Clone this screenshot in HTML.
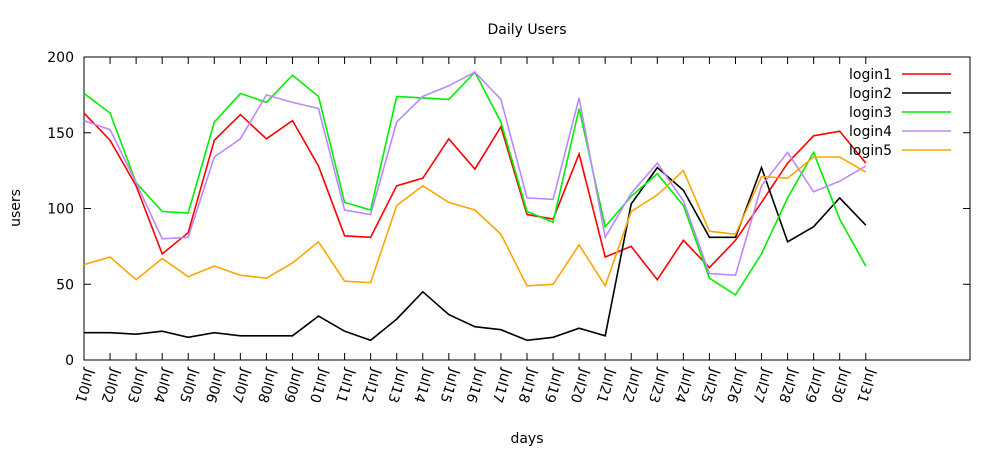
<!DOCTYPE html>
<html><head><meta charset="utf-8"><style>
html,body{margin:0;padding:0;background:#fff;}
svg text{font-family:"DejaVu Sans","Liberation Sans",sans-serif;font-size:14px;fill:#000;}
</style></head><body>
<svg id="chart" width="1000" height="450" xmlns="http://www.w3.org/2000/svg">
<text x="527" y="34" text-anchor="middle">Daily Users</text>
<text x="527" y="443" text-anchor="middle">days</text>
<text transform="translate(20,208) rotate(-90)" text-anchor="middle">users</text>
<rect x="84" y="57" width="886" height="303" fill="none" stroke="#000" stroke-width="1"/>
<g id="axes"></g>
<g id="series"></g>
<g id="legend"></g>
</svg>
<script>
const days = ["Jul01","Jul02","Jul03","Jul04","Jul05","Jul06","Jul07","Jul08","Jul09","Jul10","Jul11","Jul12","Jul13","Jul14","Jul15","Jul16","Jul17","Jul18","Jul19","Jul20","Jul21","Jul22","Jul23","Jul24","Jul25","Jul26","Jul27","Jul28","Jul29","Jul30","Jul31"];
const yTicks = [0,50,100,150,200];
const login1 = [163,145,115,70,84,145,162,146,158,128,82,81,115,120,146,126,154,96,93,136,68,75,53,79,61,79,104,130,148,151,130];
const login2 = [18,18,17,19,15,18,16,16,16,29,19,13,27,45,30,22,20,13,15,21,16,103,127,112,81,81,127,78,88,107,89];
const login3 = [176,163,117,98,97,157,176,170,188,174,104,99,174,173,172,190,157,98,91,166,88,108,123,102,54,43,70,107,137,93,62];
const login4 = [158,152,117,80,81,134,146,175,170,166,99,96,157,174,181,190,172,107,106,173,81,110,130,105,57,56,115,137,111,118,128];
const login5 = [63,68,53,67,55,62,56,54,64,78,52,51,102,115,104,99,83,49,50,76,49,98,109,125,85,83,121,120,134,134,124];
const seriesNames = ["login1","login2","login3","login4","login5"];
const seriesColors = ["#ff0000","#000000","#00ee00","#bb88ff","#ffa500"];
const seriesData = [login1,login2,login3,login4,login5];

const NS="http://www.w3.org/2000/svg";
const X0=84,X1=970,Y0=360,Y1=57,XMAX=34,YMAX=200;
const xs=i=>X0+(X1-X0)*i/XMAX;
const ys=v=>Y0-(Y0-Y1)*v/YMAX;
function mk(tag,attrs,parent){const e=document.createElementNS(NS,tag);for(const k in attrs)e.setAttribute(k,attrs[k]);parent.appendChild(e);return e;}
const axes=document.getElementById('axes');
yTicks.forEach(t=>{
  const y=ys(t);
  const l=mk('line',{x1:X0,x2:X0+7,y1:y,y2:y,stroke:'#000'},axes);
  
  
  const r=mk('line',{x1:X1-7,x2:X1,y1:y,y2:y,stroke:'#000'},axes);
  
  
  const tx=mk('text',{x:X0-10,y:y+5,'text-anchor':'end'},axes);
  tx.textContent=t;
  
  
});
days.forEach((d,i)=>{
  const x=xs(i);
  const b=mk('line',{x1:x,x2:x,y1:Y0,y2:Y0-7,stroke:'#000'},axes);
  
  
  const t=mk('line',{x1:x,x2:x,y1:Y1,y2:Y1+7,stroke:'#000'},axes);
  
  
  const tx=mk('text',{transform:`translate(${x+2},${Y0+8}) rotate(108)`,'text-anchor':'start'},axes);
  tx.textContent=d;
  
  
});
const sg=document.getElementById('series');
seriesData.forEach((arr,s)=>{
  const pts=arr.map((v,i)=>xs(i).toFixed(1)+','+ys(v).toFixed(1)).join(' ');
  const p=mk('polyline',{points:pts,fill:'none',stroke:seriesColors[s],'stroke-width':1.6,'stroke-linejoin':'miter'},sg);
  
  
});
const lg=document.getElementById('legend');
seriesNames.forEach((n,s)=>{
  const y=74+s*19;
  const tx=mk('text',{x:892,y:y+5,'text-anchor':'end'},lg);
  tx.textContent=n;
  
  
  const l=mk('line',{x1:902,x2:951,y1:y,y2:y,stroke:seriesColors[s],'stroke-width':1.6},lg);
  
  
});
</script>
</body></html>
